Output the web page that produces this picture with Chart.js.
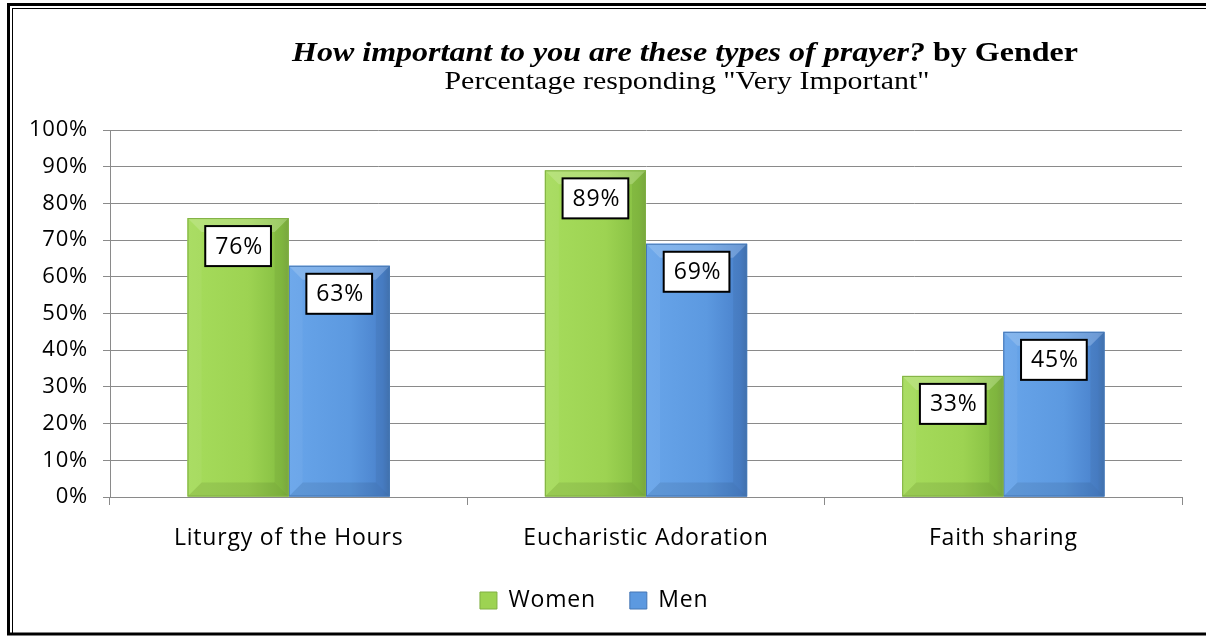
<!DOCTYPE html>
<html>
<head>
<meta charset="utf-8">
<script src="https://cdn.jsdelivr.net/npm/chart.js@4.4.0/dist/chart.umd.min.js"></script>
<style>
  html, body { margin: 0; padding: 0; background: #fff; }
  #wrap { position: relative; width: 1206px; height: 636px; }
</style>
</head>
<body>
<div id="wrap"><canvas id="prayerChart" width="1206" height="636"></canvas></div>
<script>
// data
const categories = ["Liturgy of the Hours", "Eucharistic Adoration", "Faith sharing"];
const womenValues = [76, 89, 33];
const menValues = [63, 69, 45];
const yTicks = [0, 10, 20, 30, 40, 50, 60, 70, 80, 90, 100];

const titleItalic = "How important to you are these types of prayer?";
const titleBold = " by Gender";
const subtitle = 'Percentage responding "Very Important"';

const uiFont = "'Open Sans', Lato, sans-serif";
const serifFont = "'Liberation Serif', 'DejaVu Serif', serif";

// colours for the bevelled bars: [left, mid, right, edge]
const palette = {
  Women: ["#a6dc5c", "#9dd352", "#86bf42", "#80b043"],
  Men: ["#68a5ea", "#5c99e0", "#4a82cc", "#4577b5"]
};

// the original text is a bit wider than Open Sans
const spacing = {
  id: "spacing",
  beforeInit(chart) { chart.ctx.letterSpacing = "0.8px"; },
  beforeDraw(chart) { chart.ctx.letterSpacing = "0.8px"; }
};

// gradient + bevel look on every bar, taken from the bar elements
const bevelBars = {
  id: "bevelBars",
  afterDatasetDraw(chart, args) {
    const ctx = chart.ctx;
    const ds = chart.data.datasets[args.index];
    const cols = palette[ds.label];
    args.meta.data.forEach(bar => {
      const p = bar.getProps(["x", "y", "base", "width"], true);
      const l = p.x - p.width / 2, r = p.x + p.width / 2;
      const t = p.y, b = p.base;
      const h = b - t;
      const bv = Math.min(14, h / 2);
      ctx.save();
      let g = ctx.createLinearGradient(l, 0, r, 0);
      g.addColorStop(0, cols[0]);
      g.addColorStop(0.6, cols[1]);
      g.addColorStop(0.93, cols[2]);
      g.addColorStop(1, cols[3]);
      ctx.fillStyle = g;
      ctx.fillRect(l, t, r - l, h);
      // top bevel
      ctx.fillStyle = "rgba(255,255,255,0.2)";
      ctx.beginPath();
      ctx.moveTo(l, t); ctx.lineTo(r, t); ctx.lineTo(r - bv, t + bv); ctx.lineTo(l + bv, t + bv);
      ctx.closePath(); ctx.fill();
      // left bevel
      ctx.fillStyle = "rgba(255,255,255,0.05)";
      ctx.beginPath();
      ctx.moveTo(l, t); ctx.lineTo(l + bv, t + bv); ctx.lineTo(l + bv, b - bv); ctx.lineTo(l, b);
      ctx.closePath(); ctx.fill();
      // right bevel
      ctx.fillStyle = "rgba(0,0,0,0.05)";
      ctx.beginPath();
      ctx.moveTo(r, t); ctx.lineTo(r - bv, t + bv); ctx.lineTo(r - bv, b - bv); ctx.lineTo(r, b);
      ctx.closePath(); ctx.fill();
      // bottom bevel
      ctx.fillStyle = "rgba(0,0,0,0.08)";
      ctx.beginPath();
      ctx.moveTo(l, b); ctx.lineTo(r, b); ctx.lineTo(r - bv, b - bv); ctx.lineTo(l + bv, b - bv);
      ctx.closePath(); ctx.fill();
      ctx.strokeStyle = cols[3];
      ctx.lineWidth = 1;
      ctx.strokeRect(l + 0.5, t + 0.5, r - l - 1, h - 1);
      ctx.restore();
    });
  }
};

// boxed value labels at the inside end of each bar
const boxLabels = {
  id: "boxLabels",
  afterDatasetsDraw(chart) {
    const ctx = chart.ctx;
    ctx.save();
    ctx.font = "23px " + uiFont;
    ctx.textAlign = "center";
    ctx.textBaseline = "middle";
    chart.data.datasets.forEach((ds, i) => {
      chart.getDatasetMeta(i).data.forEach((bar, j) => {
        const p = bar.getProps(["x", "y"], true);
        const txt = ds.data[j] + "%";
        const w = ctx.measureText(txt).width + 18;
        const hgt = 40;
        const top = p.y + 8;
        ctx.fillStyle = "#fff";
        ctx.fillRect(p.x - w / 2, top, w, hgt);
        ctx.strokeStyle = "#000";
        ctx.lineWidth = 2;
        ctx.strokeRect(p.x - w / 2, top, w, hgt);
        ctx.fillStyle = "#000";
        ctx.fillText(txt, p.x + 1, top + hgt / 2 + 1);
      });
    });
    ctx.restore();
  }
};

// title with mixed italic/bold, subtitle, and the double frame
const frameAndTitle = {
  id: "frameAndTitle",
  afterDraw(chart) {
    const ctx = chart.ctx;
    ctx.save();
    ctx.letterSpacing = "0px";
    ctx.strokeStyle = "#000";
    ctx.lineWidth = 3;
    ctx.strokeRect(8.5, 4.5, 1220, 629.5);
    ctx.lineWidth = 1;
    ctx.strokeRect(12.5, 8.5, 1210, 625);

    const cx = 685;
    ctx.textBaseline = "alphabetic";
    ctx.fillStyle = "#000";
    ctx.textAlign = "left";

    // title, stretched sideways like the original
    ctx.font = "italic bold 27px " + serifFont;
    const w1 = ctx.measureText(titleItalic).width;
    ctx.font = "bold 27px " + serifFont;
    const w2 = ctx.measureText(titleBold).width;
    const sx = 786 / (w1 + w2);
    ctx.save();
    ctx.translate(cx, 61);
    ctx.scale(sx, 1);
    const x0 = -(w1 + w2) / 2;
    ctx.font = "italic bold 27px " + serifFont;
    ctx.fillText(titleItalic, x0, 0);
    ctx.font = "bold 27px " + serifFont;
    ctx.fillText(titleBold, x0 + w1, 0);
    ctx.restore();

    ctx.font = "25px " + serifFont;
    const w3 = ctx.measureText(subtitle).width;
    ctx.save();
    ctx.translate(cx + 2, 89);
    ctx.scale(485 / w3, 1);
    ctx.textAlign = "center";
    ctx.fillText(subtitle, 0, 0);
    ctx.restore();
    ctx.restore();
  }
};

const ctx = document.getElementById("prayerChart").getContext("2d");

const chart = new Chart(ctx, {
  type: "bar",
  data: {
    labels: categories,
    datasets: [
      { label: "Women", data: womenValues, backgroundColor: palette.Women[1], borderWidth: 0 },
      { label: "Men", data: menValues, backgroundColor: palette.Men[1], borderWidth: 0 }
    ]
  },
  options: {
    responsive: false,
    animation: false,
    devicePixelRatio: 1,
    categoryPercentage: 0.566,
    barPercentage: 1,
    layout: { padding: { top: 130, right: 24, bottom: 14, left: 0 } },
    scales: {
      x: {
        afterFit: scale => { scale.height = 58; },
        grid: { drawOnChartArea: false, tickLength: 8, color: "#8a8a8a" },
        border: { color: "#8a8a8a" },
        ticks: { color: "#000", font: { family: uiFont, size: 23 }, padding: 20 }
      },
      y: {
        min: 0,
        max: 100,
        afterBuildTicks: scale => { scale.ticks = yTicks.map(v => ({ value: v })); },
        afterFit: scale => { scale.width = 110; },
        grid: { color: "#8a8a8a", tickLength: 7 },
        border: { color: "#8a8a8a" },
        ticks: { color: "#000", font: { family: uiFont, size: 22 }, padding: 15, callback: v => v + "%" }
      }
    },
    plugins: {
      title: { display: false },
      tooltip: { enabled: false },
      legend: {
        position: "bottom",
        labels: {
          color: "#000",
          font: { family: uiFont, size: 23 },
          boxWidth: 17,
          boxHeight: 17,
          padding: 34,
          generateLabels: c => c.data.datasets.map((ds, i) => ({
            text: ds.label,
            fillStyle: palette[ds.label][1],
            strokeStyle: palette[ds.label][3],
            lineWidth: 1,
            datasetIndex: i
          }))
        }
      }
    }
  },
  plugins: [spacing, bevelBars, boxLabels, frameAndTitle]
});
</script>
</body>
</html>
